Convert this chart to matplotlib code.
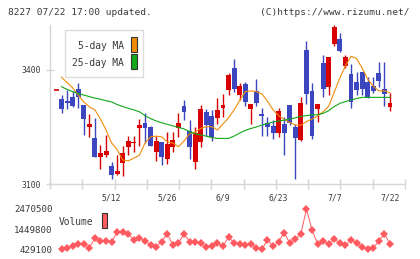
import matplotlib
matplotlib.use("Agg")
import matplotlib.pyplot as plt
from matplotlib.patches import Rectangle
import numpy as np

# ---- data ----
opens = [3324, 3319, 3328, 3349, 3308, 3249, 3222, 3170, 3176, 3148,
         3126, 3156, 3198, 3209, 3248, 3260, 3251, 3185, 3211, 3165,
         3198, 3248, 3305, 3240, 3159, 3211, 3289, 3279, 3274, 3301,
         3347, 3404, 3334, 3362, 3298, 3345, 3284, 3260, 3253, 3235,
         3258, 3308, 3251, 3216, 3453, 3345, 3297, 3418, 3356, 3468,
         3482, 3411, 3390, 3369, 3394, 3368, 3358, 3393, 3349, 3303]
closes = [3297, 3314, 3305, 3330, 3272, 3258, 3170, 3182, 3187, 3124,
          3134, 3182, 3213, 3210, 3255, 3248, 3201, 3214, 3170, 3205,
          3216, 3260, 3290, 3198, 3233, 3297, 3255, 3223, 3295, 3308,
          3387, 3350, 3358, 3317, 3311, 3312, 3279, 3251, 3233, 3292,
          3235, 3261, 3222, 3312, 3337, 3226, 3311, 3350, 3433, 3512,
          3450, 3433, 3317, 3347, 3350, 3327, 3346, 3371, 3337, 3312]
highs = [3333, 3347, 3346, 3367, 3308, 3284, 3273, 3203, 3229, 3158,
         3176, 3200, 3226, 3226, 3272, 3286, 3253, 3226, 3211, 3238,
         3238, 3286, 3321, 3268, 3251, 3308, 3297, 3295, 3326, 3337,
         3391, 3429, 3367, 3369, 3311, 3376, 3299, 3277, 3268, 3299,
         3276, 3308, 3258, 3328, 3476, 3367, 3311, 3440, 3433, 3518,
         3498, 3440, 3416, 3396, 3394, 3382, 3382, 3422, 3422, 3340]
lows = [3288, 3297, 3302, 3299, 3229, 3223, 3170, 3139, 3172, 3113,
        3124, 3121, 3176, 3185, 3200, 3209, 3201, 3161, 3150, 3153,
        3185, 3223, 3268, 3165, 3139, 3198, 3226, 3214, 3258, 3277,
        3334, 3343, 3321, 3305, 3258, 3305, 3226, 3226, 3218, 3223,
        3176, 3255, 3113, 3214, 3311, 3218, 3264, 3330, 3334, 3464,
        3447, 3406, 3299, 3334, 3334, 3327, 3340, 3356, 3305, 3293]
ma5 = [3381, 3367, 3353, 3334, 3316, 3303, 3295, 3271, 3242, 3208,
       3190, 3163, 3161, 3168, 3176, 3208, 3224, 3226, 3224, 3211,
       3208, 3198, 3213, 3232, 3237, 3246, 3251, 3251, 3242, 3258,
       3274, 3295, 3320, 3343, 3345, 3343, 3337, 3318, 3295, 3280,
       3270, 3262, 3255, 3255, 3264, 3271, 3279, 3290, 3305, 3342,
       3379, 3411, 3436, 3430, 3405, 3376, 3357, 3345, 3345, 3340]
ma25 = [3356, 3349, 3343, 3338, 3334, 3330, 3326, 3323, 3319, 3316,
        3309, 3304, 3299, 3295, 3290, 3280, 3272, 3266, 3261, 3257,
        3253, 3249, 3245, 3238, 3232, 3229, 3226, 3222, 3220, 3220,
        3220, 3226, 3234, 3241, 3246, 3250, 3255, 3259, 3263, 3266,
        3268, 3271, 3274, 3278, 3280, 3282, 3282, 3286, 3293, 3304,
        3312, 3317, 3321, 3325, 3328, 3328, 3328, 3328, 3328, 3328]
volumes = [429100, 510800, 582200, 684300, 714900, 510800, 990500, 868000, 852700, 801700,
           1296700, 1296700, 1194600, 888400, 990500, 852700, 648600, 561800, 817000, 1209900,
           648600, 735300, 1209900, 817000, 817000, 735300, 561800, 612800, 735300, 597500,
           1041500, 765900, 699600, 633200, 699600, 480100, 429100, 903700, 597500, 801700,
           1276300, 735300, 954800, 1209900, 2470500, 1414100, 699600, 852700, 699600, 954800,
           735300, 633200, 903700, 765900, 531200, 429100, 495400, 852700, 1209900, 699600]
prev_close = 3347
date_idx = [9, 19, 29, 39, 49, 59]
date_labels = ["5/12", "5/26", "6/9", "6/23", "7/7", "7/22"]
price_ticks = [3100, 3400]
title_left = "8227 07/22 17:00 updated."
title_right = "(C)https://www.rizumu.net/"

# ---- style ----
W, H = 420, 259
RED = "#d80000"
BLUE = "#3c46be"
ORANGE = "#f08c0a"
GREEN = "#12a81a"
VOLC = "#ff5a5f"
GRID = "#d6d6d6"
TXT = "#3a3a3a"
MONO = "DejaVu Sans Mono"

fig = plt.figure(figsize=(W / 100, H / 100), dpi=100)

def fx(px):
    return px / W

def fy(py):
    return 1 - py / H

x = np.arange(len(opens))
xlim = (-2.07, 61.7)

ax = fig.add_axes([fx(50), fy(184), fx(405) - fx(50), fy(25) - fy(184)])
ax.set_xlim(*xlim)
ax.set_ylim(3100, 3518.4)

o = np.array(opens, float)
c = np.array(closes, float)
up = c >= o
cols = np.where(up, RED, BLUE)
ax.vlines(x, lows, highs, colors=cols, linewidth=1.0, zorder=2)
bottom = np.minimum(o, c)
height = np.maximum(np.abs(c - o), 1.2)
ax.bar(x, height, bottom=bottom, width=0.88, color=cols, linewidth=0, zorder=3)
ax.hlines(prev_close, -1.4, -0.5, colors=RED, linewidth=1.2, zorder=3)

ax.plot(x, ma5, color=ORANGE, linewidth=0.8, zorder=4)
ax.plot(x, ma25, color=GREEN, linewidth=0.8, zorder=4)

for s in ["top", "right"]:
    ax.spines[s].set_visible(False)
for s in ["left", "bottom"]:
    ax.spines[s].set_color(GRID)
    ax.spines[s].set_linewidth(1.0)

ax.set_yticks(price_ticks)
ax.set_yticklabels([str(v) for v in price_ticks], family=MONO, fontsize=5.8, color=TXT)
ax.tick_params(axis="y", direction="inout", length=6, width=1, color=GRID, pad=3.5)

ax.set_xticks(date_idx)
ax.set_xticklabels(date_labels, family=MONO, fontsize=5.8, color=TXT)
ax.tick_params(axis="x", which="major", length=0, pad=7)
ax.set_xticks(np.linspace(xlim[0], xlim[1], 12), minor=True)
ax.tick_params(axis="x", which="minor", direction="inout", length=7, width=1, color=GRID)

# legend box
fig.patches.append(Rectangle((fx(65), fy(76.7)), fx(143.3) - fx(65), fy(30) - fy(76.7),
                             transform=fig.transFigure, facecolor="white",
                             edgecolor="#dddddd", linewidth=1.0, zorder=5))
fig.text(fx(124), fy(46), "5-day MA", ha="right", va="center", family=MONO,
         fontsize=6.9, color=TXT, zorder=6)
fig.text(fx(124), fy(62.7), "25-day MA", ha="right", va="center", family=MONO,
         fontsize=6.9, color=TXT, zorder=6)
fig.patches.append(Rectangle((fx(131), fy(52.3)), fx(137.3) - fx(131), fy(37.3) - fy(52.3),
                             transform=fig.transFigure, facecolor=ORANGE,
                             edgecolor="#333333", linewidth=0.8, zorder=6))
fig.patches.append(Rectangle((fx(131), fy(69.3)), fx(137.3) - fx(131), fy(54) - fy(69.3),
                             transform=fig.transFigure, facecolor=GREEN,
                             edgecolor="#333333", linewidth=0.8, zorder=6))

# volume panel
vax = fig.add_axes([fx(50), fy(249.3), fx(405) - fx(50), fy(209) - fy(249.3)])
vax.set_xlim(*xlim)
vmin, vmax = min(volumes), max(volumes)
vax.set_ylim(vmin, vmax)
vax.plot(x, volumes, color=VOLC, linewidth=0.7, marker="D", markersize=4.2,
         markeredgewidth=0, clip_on=False)
for s in vax.spines.values():
    s.set_visible(False)
vax.set_xticks([])
vticks = [vmin, (vmin + vmax) / 2, vmax]
vax.set_yticks(vticks)
vax.set_yticklabels([str(int(round(v))) for v in vticks], family=MONO, fontsize=6.6, color=TXT)
vax.tick_params(axis="y", length=0, pad=-2)

fig.text(fx(59), fy(222.3), "Volume", ha="left", va="center", family=MONO,
         fontsize=6.9, color=TXT)
fig.patches.append(Rectangle((fx(101.7), fy(228.3)), fx(107.3) - fx(101.7), fy(213.3) - fy(228.3),
                             transform=fig.transFigure, facecolor=VOLC,
                             edgecolor="#333333", linewidth=0.8, zorder=6))

fig.text(fx(8), fy(12.5), title_left, ha="left", va="center", family=MONO,
         fontsize=6.8, color=TXT)
fig.text(fx(410), fy(12.5), title_right, ha="right", va="center", family=MONO,
         fontsize=6.8, color=TXT)

fig.savefig("out.png", dpi=100)
